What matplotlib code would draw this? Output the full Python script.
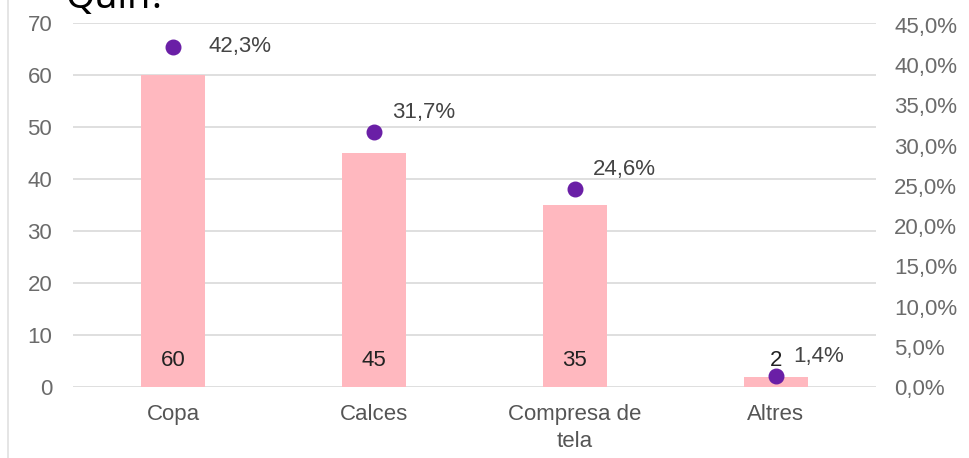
import matplotlib
matplotlib.use("Agg")
import matplotlib.pyplot as plt
from matplotlib.lines import Line2D

categories = ["Copa", "Calces", "Compresa de\ntela", "Altres"]
counts = [60, 45, 35, 2]
percents = [42.3, 31.7, 24.6, 1.4]
left_ticks = [0, 10, 20, 30, 40, 50, 60, 70]
right_ticks = [0, 5, 10, 15, 20, 25, 30, 35, 40, 45]
title = "Quin?"

plt.rcParams['font.family'] = ['Liberation Sans', 'DejaVu Sans']

fig = plt.figure(figsize=(9.69, 4.58), dpi=100)
W, H = 969, 458
ax = fig.add_axes([73 / W, 1 - 387 / H, (876 - 73) / W, (387 - 23) / H])
ax2 = ax.twinx()

x = list(range(len(categories)))
ax.bar(x, counts, width=0.32, color='#ffb8bf', zorder=2)
ax.set_xlim(-0.5, len(categories) - 0.5)
ax.set_ylim(0, 70)
ax.set_yticks(left_ticks)
ax.set_yticklabels([str(t) for t in left_ticks])
ax.yaxis.grid(True, color='#d9d9d9', linewidth=1.2, zorder=0)
ax.set_axisbelow(True)
for s in ax.spines.values():
    s.set_visible(False)
for s in ax2.spines.values():
    s.set_visible(False)
ax.tick_params(axis='y', length=0, pad=15, labelsize=16, labelcolor='#6b6b6b')
ax.set_xticks(x)
ax.set_xticklabels(categories, fontsize=16, color='#555555', linespacing=1.4)
ax.tick_params(axis='x', length=0, pad=12)

for i, c in enumerate(counts):
    ax.annotate(str(c), xy=(i, 0), xytext=(0, 19), textcoords='offset points',
                ha='center', va='center', fontsize=16, color='#222222', zorder=5)

top45 = 45 * 364 / 362
ax2.set_ylim(0, top45)
ax2.set_yticks(right_ticks)
ax2.set_yticklabels([f"{t:.1f}".replace('.', ',') + '%' for t in right_ticks])
ax2.tick_params(axis='y', length=0, pad=13, labelsize=16, labelcolor='#6b6b6b')
ax2.scatter(x, percents, s=110, color='#6a1fa6', zorder=6)

for i, p in enumerate(percents):
    label = f"{p:.1f}".replace('.', ',') + '%'
    if i == 0:
        off = (25, 0)
    else:
        off = (13, 14)
    ax2.annotate(label, xy=(i, p), xytext=off, textcoords='offset points',
                 ha='left', va='center', fontsize=16, color='#444444', zorder=7)

fig.text(66 / W, 1 - 8 / H, title, ha='left', va='baseline', fontsize=27,
         color='black', family=['Noto Sans', 'DejaVu Sans'])
fig.add_artist(Line2D([8 / W, 8 / W], [0, 1], transform=fig.transFigure,
                      color='#e0e0e0', linewidth=1.2))

fig.savefig('out.png', dpi=100)
